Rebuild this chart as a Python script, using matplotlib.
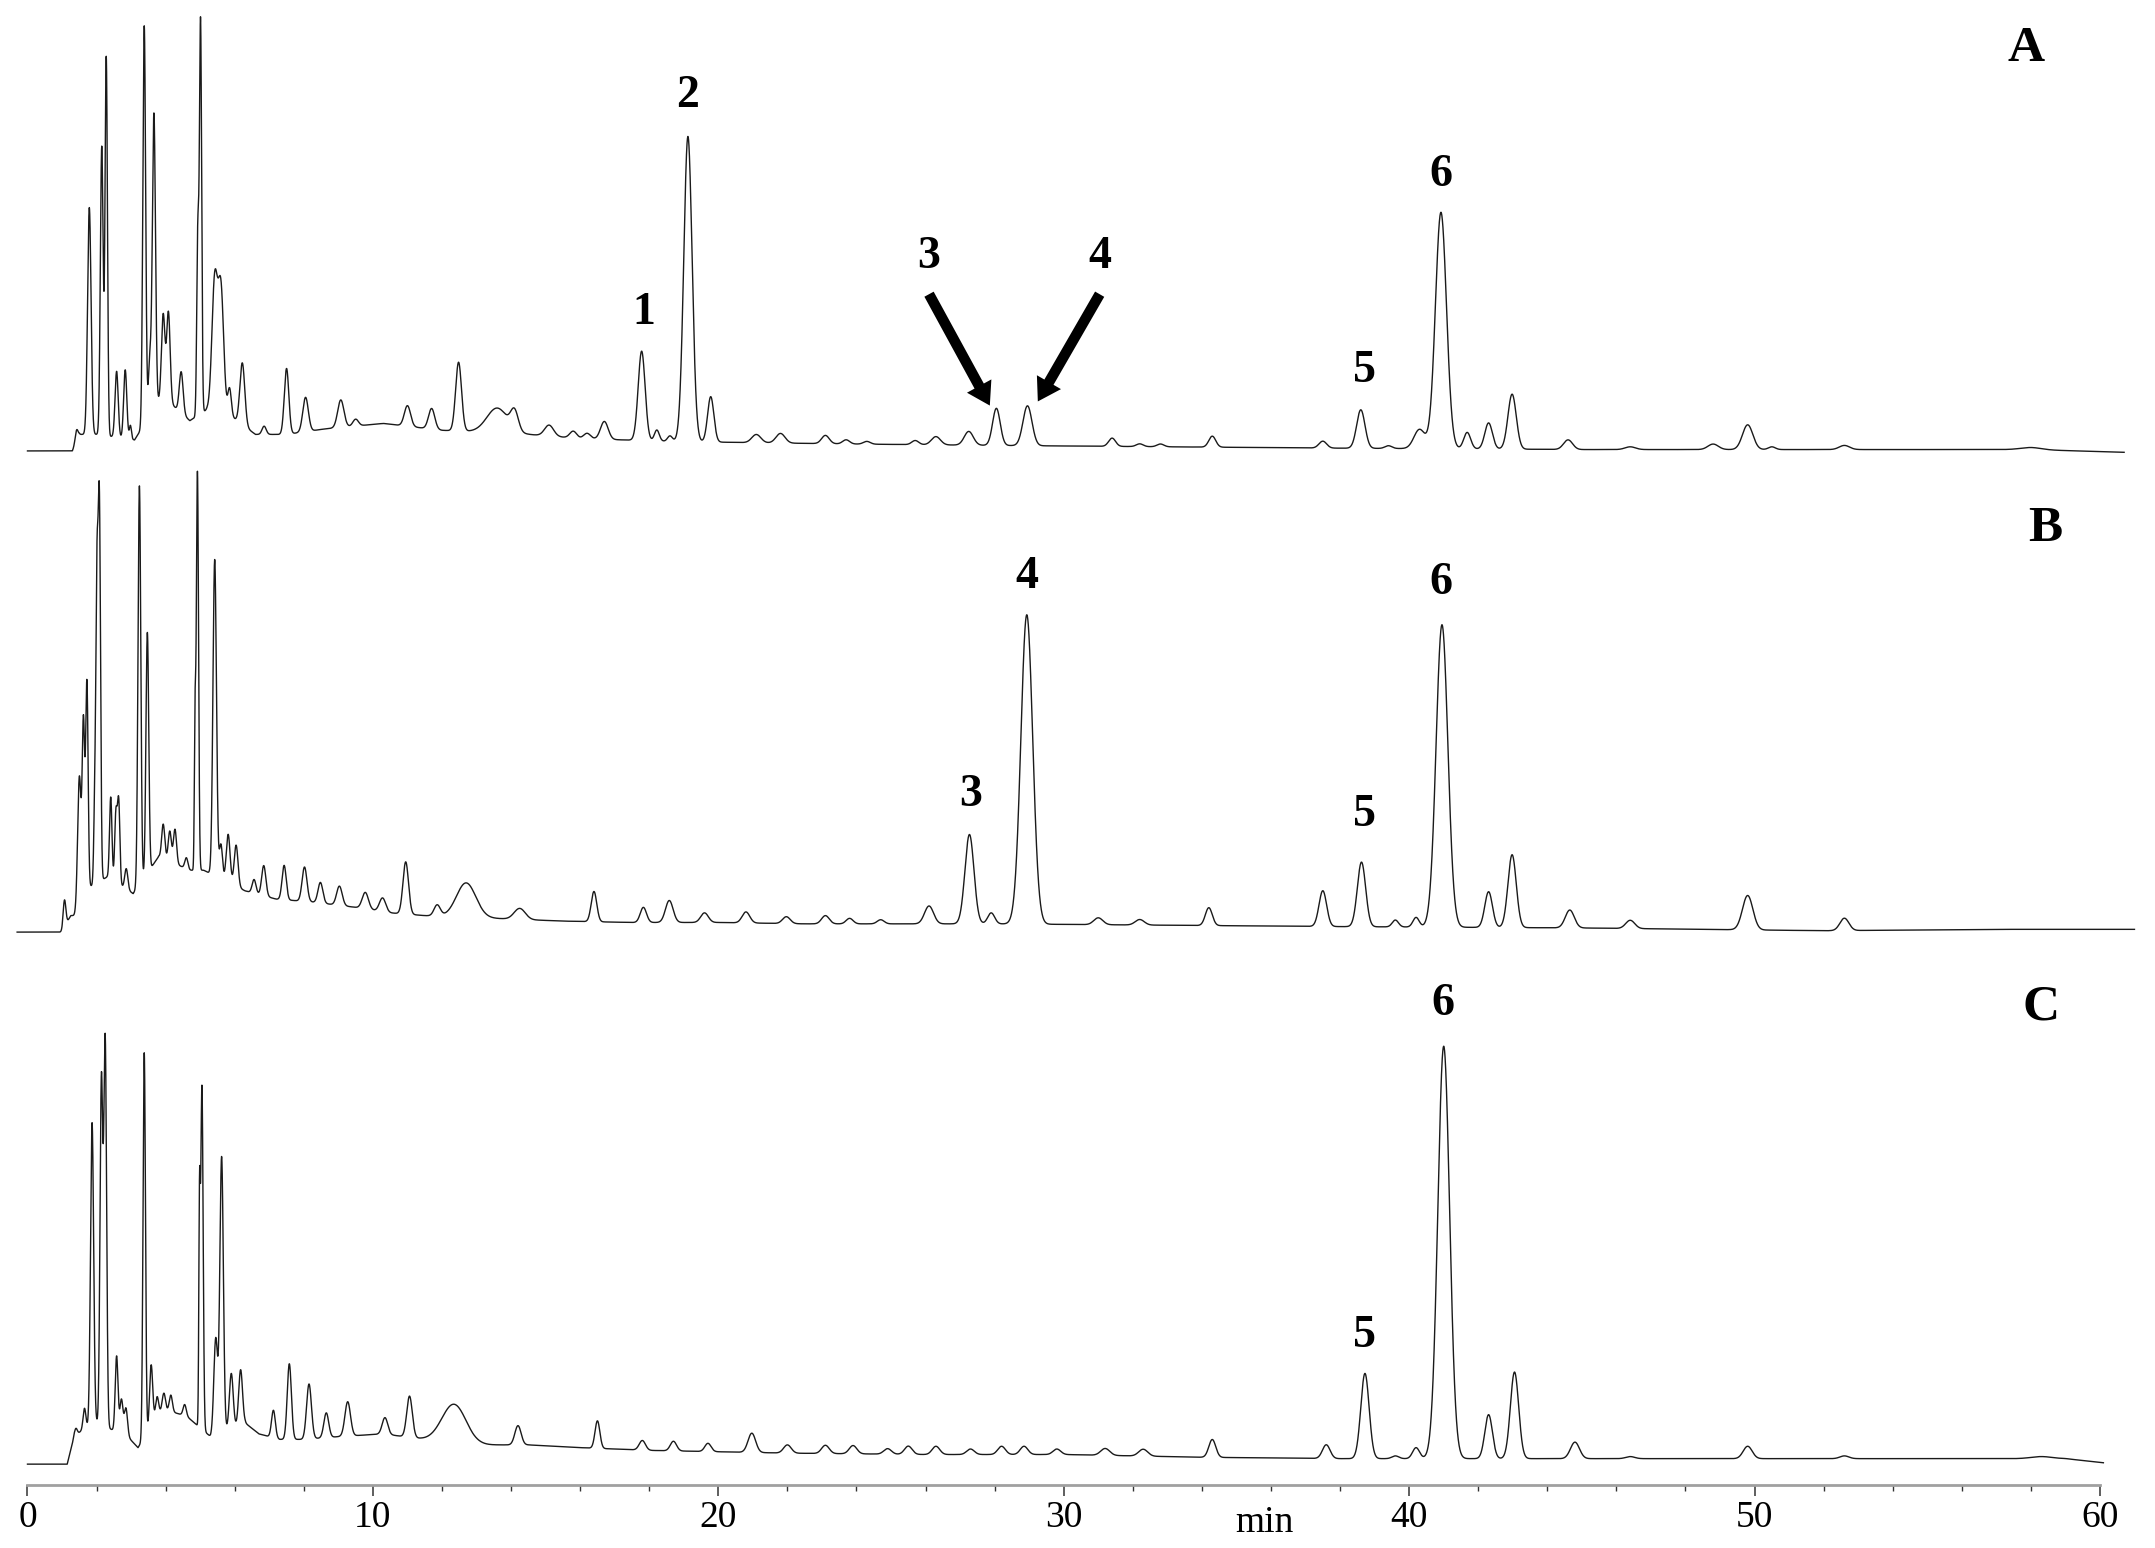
import numpy as np
import matplotlib
matplotlib.use('Agg')
import matplotlib.pyplot as plt

# ---- chromatogram A : peaks (retention time min, height, sigma min) ----
A_rt = [1.42, 1.79, 2.15, 2.28, 2.58, 2.83, 2.98, 3.38, 3.54, 3.66, 3.93, 4.08, 4.45,
        4.93, 5.01, 5.42, 5.60, 5.85, 6.22, 6.85, 7.50, 8.05, 9.07, 9.50, 11.0, 11.7,
        12.48, 13.6, 14.1, 15.1, 15.8, 16.2, 16.7, 17.78, 18.22, 18.6, 19.12, 19.78,
        21.1, 21.8, 23.1, 23.7, 24.3, 25.7, 26.3, 27.25, 28.05, 28.95, 31.4, 32.2, 32.8,
        34.3, 37.5, 38.6, 39.4, 40.3, 40.92, 41.68, 42.3, 42.98, 44.6, 46.4, 48.8, 49.8,
        50.5, 52.6, 58.0]
A_ht = [8, 165, 210, 275, 48, 50, 10, 290, 40, 215, 60, 65, 30,
        130, 285, 95, 90, 20, 45, 6, 48, 25, 20, 5, 15, 15,
        50, 18, 14, 8, 5, 4, 13, 65, 8, 4, 222, 33,
        6, 7, 6, 3, 2, 3, 6, 10, 27, 29, 6, 2, 2,
        8, 5, 28, 2, 14, 172, 12, 19, 40, 7, 2, 4, 18,
        2, 3, 1.5]
A_sd = [0.04, 0.05, 0.04, 0.035, 0.045, 0.045, 0.03, 0.04, 0.04, 0.045, 0.05, 0.05, 0.055,
        0.03, 0.032, 0.08, 0.08, 0.05, 0.07, 0.06, 0.065, 0.08, 0.09, 0.08, 0.09, 0.09,
        0.085, 0.3, 0.11, 0.13, 0.1, 0.1, 0.11, 0.1, 0.07, 0.07, 0.12, 0.09,
        0.13, 0.13, 0.11, 0.1, 0.1, 0.1, 0.13, 0.13, 0.11, 0.13, 0.1, 0.1, 0.1,
        0.1, 0.11, 0.12, 0.1, 0.16, 0.16, 0.1, 0.11, 0.12, 0.13, 0.15, 0.15, 0.15,
        0.1, 0.15, 0.3]
# drifting background under the peaks
A_bg_t = [-0.5, 1.30, 1.50, 2.0, 3.1, 3.9, 4.7, 5.2, 5.9, 6.6, 7.5, 8.6, 10.3, 12.0, 13.0,
          14.5, 16.0, 18.5, 21.0, 24.0, 28.0, 33.0, 38.0, 45.0, 52.0, 58.0, 60.7]
A_bg_h = [0, 0, 12, 12, 8, 40, 22, 30, 25, 12, 12, 16, 20, 15, 14,
          12, 9, 7, 6, 5, 4, 3, 2, 1, 1, 1, -1]
A_run = (0.0, 60.7)

# ---- chromatogram B ----
B_rt = [1.07, 1.50, 1.62, 1.72, 1.95, 2.01, 2.08, 2.41, 2.56, 2.64, 2.86, 3.24, 3.47,
        3.93, 4.12, 4.27, 4.60, 4.85, 4.92, 5.42, 5.60, 5.81, 6.04, 6.56, 6.84, 7.43,
        8.02, 8.48, 9.03, 9.78, 10.28, 10.95, 11.86, 12.70, 14.25, 16.40, 17.83, 18.58,
        19.6, 20.8, 21.97, 23.1, 23.8, 24.7, 26.1, 27.27, 27.9, 28.93, 31.0, 32.2, 34.2,
        37.5, 38.62, 39.6, 40.2, 40.95, 42.3, 42.98, 44.65, 46.4, 49.8, 52.6]
B_ht = [20, 95, 120, 150, 60, 200, 275, 60, 50, 60, 15, 290, 175,
        25, 22, 25, 8, 100, 290, 230, 25, 35, 30, 10, 22, 25,
        25, 15, 14, 12, 10, 38, 8, 25, 8, 22, 11, 16,
        7, 8, 5, 6, 4, 3, 13, 65, 8, 225, 5, 4, 13,
        26, 47, 5, 7, 220, 26, 53, 13, 6, 25, 9]
B_sd = [0.04, 0.05, 0.035, 0.035, 0.03, 0.03, 0.035, 0.035, 0.035, 0.035, 0.045, 0.04, 0.04,
        0.045, 0.045, 0.045, 0.045, 0.02, 0.032, 0.05, 0.045, 0.055, 0.055, 0.055, 0.06, 0.06,
        0.07, 0.07, 0.08, 0.09, 0.09, 0.08, 0.09, 0.28, 0.16, 0.08, 0.09, 0.11,
        0.11, 0.11, 0.11, 0.11, 0.1, 0.1, 0.13, 0.13, 0.1, 0.17, 0.13, 0.13, 0.1,
        0.11, 0.12, 0.09, 0.09, 0.17, 0.11, 0.12, 0.13, 0.13, 0.15, 0.13]
B_bg_t = [-0.5, 1.0, 1.25, 1.45, 1.6, 2.3, 3.06, 3.8, 4.7, 5.1, 6.3, 7.2, 8.2, 9.5, 10.5,
          11.5, 13.5, 15.5, 17.5, 20.0, 22.5, 25.0, 28.0, 33.0, 38.0, 45.0, 52.0, 57.0, 61.0]
B_bg_h = [0, 0, 12, 12, 30, 40, 28, 55, 45, 45, 30, 24, 22, 18, 14,
          12, 10, 8, 7, 7, 6, 6, 6, 5, 4, 3, 1, 2, 2]
B_run = (-0.3, 61.0)

# ---- chromatogram C ----
C_rt = [1.40, 1.65, 1.87, 2.14, 2.25, 2.58, 2.72, 2.85, 3.38, 3.58, 3.75, 3.95, 4.15,
        4.55, 4.98, 5.05, 5.45, 5.62, 5.90, 6.17, 7.12, 7.58, 8.15, 8.65, 9.27, 10.35,
        11.06, 12.35, 14.2, 16.5, 17.8, 18.7, 19.7, 20.97, 22.0, 23.1, 23.9, 24.9, 25.5,
        26.3, 27.3, 28.2, 28.85, 29.8, 31.2, 32.3, 34.3, 37.6, 38.72, 39.6, 40.2, 41.0,
        42.3, 43.05, 44.8, 46.4, 49.8, 52.6, 58.3]
C_ht = [5, 15, 220, 250, 280, 55, 25, 20, 280, 45, 15, 12, 12,
        8, 150, 250, 70, 200, 40, 40, 20, 55, 40, 18, 25, 12,
        30, 28, 14, 20, 7, 7, 6, 14, 6, 6, 6, 4, 6,
        6, 4, 6, 6, 4, 5, 5, 13, 10, 62, 2, 8, 300,
        32, 63, 12, 1.5, 9, 2, 1.5]
C_sd = [0.04, 0.04, 0.045, 0.04, 0.04, 0.04, 0.045, 0.045, 0.035, 0.045, 0.045, 0.045, 0.045,
        0.045, 0.02, 0.035, 0.055, 0.05, 0.055, 0.055, 0.055, 0.06, 0.07, 0.07, 0.08, 0.08,
        0.08, 0.35, 0.09, 0.07, 0.09, 0.09, 0.09, 0.11, 0.11, 0.11, 0.11, 0.11, 0.11,
        0.11, 0.11, 0.11, 0.11, 0.11, 0.13, 0.13, 0.1, 0.11, 0.12, 0.1, 0.1, 0.17,
        0.11, 0.12, 0.13, 0.13, 0.13, 0.13, 0.3]
C_bg_t = [-0.5, 1.15, 1.35, 1.6, 2.0, 2.9, 3.2, 3.9, 4.6, 5.3, 6.3, 6.7, 7.3, 8.0, 9.0, 10.3,
          11.5, 12.9, 14.5, 16.0, 18.0, 20.0, 22.0, 26.0, 30.0, 34.0, 38.0, 44.0, 50.0,
          56.0, 59.0, 60.1]
C_bg_h = [0, 0, 20, 25, 30, 20, 12, 40, 35, 20, 30, 22, 18, 18, 20, 22,
          18, 14, 14, 12, 10, 9, 8, 7, 7, 5, 4, 4, 4, 4, 4, 1]
C_run = (0.0, 60.1)

# peak numbers (text, time, signal level) and panel letters
A_labels = [('1', 17.83, 852), ('2', 19.10, 1010), ('3', 26.10, 893), ('4', 31.04, 893),
            ('5', 38.72, 810), ('6', 40.91, 953)]
B_labels = [('3', 27.30, 502), ('4', 28.93, 660), ('5', 38.72, 487), ('6', 40.91, 656)]
C_labels = [('5', 38.72, 108), ('6', 40.99, 350)]
panels = [('A', 57.86, 1044), ('B', 58.42, 695), ('C', 58.30, 347)]
# arrows for peaks 3 and 4 in A: (start, tip)
arrows = [((26.10, 866), (27.86, 785)), ((31.04, 866), (29.25, 788))]

# vertical offsets of the three runs
offsets = {'A': 752, 'B': 402, 'C': 15}


def signal(t, rt, ht, sd, bg_t, bg_h):
    y = np.interp(t, bg_t, bg_h)
    for r, h, s in zip(rt, ht, sd):
        y = y + h * np.exp(-0.5 * ((t - r) / s) ** 2)
    return y


fig = plt.figure(figsize=(21.55, 15.48), dpi=100)
ax = fig.add_axes([0, 46 / 1126, 1, 1080 / 1126])
ax.set_xlim(-20 / 25.133, 1548 / 25.133)
ax.set_ylim(0, 1080)

runs = [('A', A_rt, A_ht, A_sd, A_bg_t, A_bg_h, A_run),
        ('B', B_rt, B_ht, B_sd, B_bg_t, B_bg_h, B_run),
        ('C', C_rt, C_ht, C_sd, C_bg_t, C_bg_h, C_run)]
for name, rt, ht, sd, bt, bh, run in runs:
    t = np.arange(run[0], run[1], 0.002)
    y = signal(t, rt, ht, sd, bt, bh) + offsets[name]
    ax.plot(t, y, color='#1a1a1a', lw=1.0)

serif = ['Liberation Serif', 'DejaVu Serif']
for txt, x, y in A_labels + B_labels + C_labels:
    ax.text(x, y, txt, ha='center', va='center', fontsize=33, fontweight='bold', family=serif)
for txt, x, y in panels:
    ax.text(x, y, txt, ha='center', va='center', fontsize=37, fontweight='bold', family=serif)
for (x0, y0), (x1, y1) in arrows:
    ax.annotate('', xy=(x1, y1), xytext=(x0, y0),
                arrowprops=dict(arrowstyle='simple,head_length=0.8,head_width=1.0,tail_width=0.38',
                                mutation_scale=20, color='black', lw=0, shrinkA=0, shrinkB=0))

# bottom time axis only
for s in ['left', 'right', 'top']:
    ax.spines[s].set_visible(False)
ax.spines['bottom'].set_bounds(0, 60)
ax.spines['bottom'].set_color('#a0a0a0')
ax.spines['bottom'].set_linewidth(2)
ax.set_yticks([])
ax.set_xticks(range(0, 61, 10))
ax.set_xticks(np.arange(0, 61, 2), minor=True)
ax.tick_params(axis='x', which='major', direction='out', length=8, width=1.1,
               color='#333333', labelsize=27, pad=3)
ax.tick_params(axis='x', which='minor', direction='out', length=4, width=1.0, color='#333333')
for lab in ax.get_xticklabels():
    lab.set_family(serif)
ax.annotate('min', xy=(35.8, 0), xycoords='data', xytext=(0, -34), textcoords='offset points',
            ha='center', va='baseline', fontsize=27, family=serif)

fig.savefig('out.png', dpi=100)
